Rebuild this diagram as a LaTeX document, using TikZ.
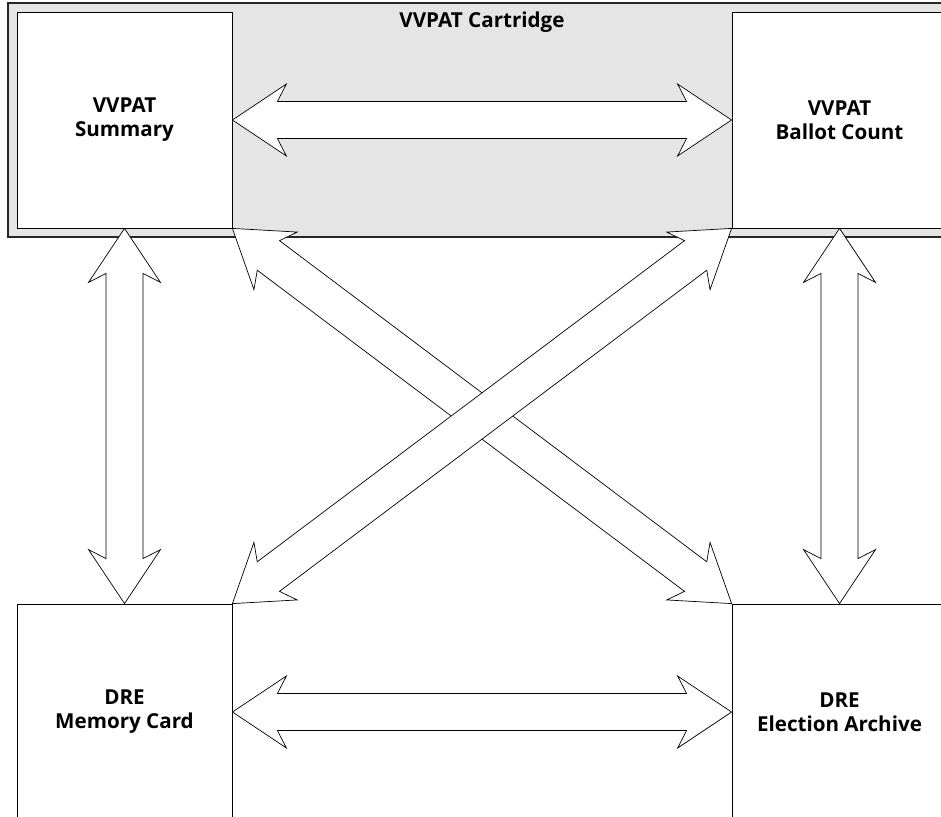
\documentclass[tikz,border=0pt]{standalone}
\usepackage{fontspec}
\setmainfont{Open Sans}
\usetikzlibrary{calc}

\tikzset{
  labelfont/.style={font=\fontsize{20.6}{24}\selectfont\bfseries},
  store/.style={draw=black, fill=white, line width=0.8pt, minimum width=215pt,
    minimum height=216pt, inner sep=0pt, align=center, labelfont},
  cartridge/.style={draw=black!85, fill=black!10, line width=1.2pt},
  blockarrow/.style={draw=black, fill=white, line width=0.7pt, line join=miter},
}

% double-headed block arrow between two points
\newcommand\dblarrow[2]{%
  \path ($(#1)!54pt!(#2)$) coordinate (ha) ($(#1)!45pt!(#2)$) coordinate (na)
        ($(#2)!54pt!(#1)$) coordinate (hb) ($(#2)!45pt!(#1)$) coordinate (nb);
  \draw[blockarrow] (#1)
    -- ($(ha)!36pt!90:(#2)$) -- ($(na)!18.5pt!90:(#2)$)
    -- ($(nb)!18.5pt!-90:(#1)$) -- ($(hb)!36pt!-90:(#1)$)
    -- (#2)
    -- ($(hb)!36pt!90:(#1)$) -- ($(nb)!18.5pt!90:(#1)$)
    -- ($(na)!18.5pt!-90:(#2)$) -- ($(ha)!36pt!-90:(#2)$)
    -- cycle;}

\begin{document}
\begin{tikzpicture}[x=1pt, y=-1pt]
  \useasboundingbox (0,0) rectangle (941,816);

  % cartridge holding the two VVPAT stores
  \draw[cartridge] (8,3) rectangle (956,237);
  \node[labelfont] (title) at (482,22) {VVPAT Cartridge};

  \node[store] (sum) at (124.5,120) {VVPAT\\Summary};
  \node[store] (bc)  at (839.5,120) {VVPAT\\Ballot Count};
  \node[store] (mc)  at (124.5,712) {DRE\\Memory Card};
  \node[store] (ea)  at (839.5,712) {DRE\\Election Archive};

  % horizontal links
  \dblarrow{sum.east}{bc.west}
  \dblarrow{mc.east}{ea.west}
  % vertical links
  \dblarrow{sum.south}{mc.north}
  \dblarrow{bc.south}{ea.north}
  % crossing links
  \dblarrow{sum.south east}{ea.north west}
  \dblarrow{mc.north east}{bc.south west}
\end{tikzpicture}
\end{document}
